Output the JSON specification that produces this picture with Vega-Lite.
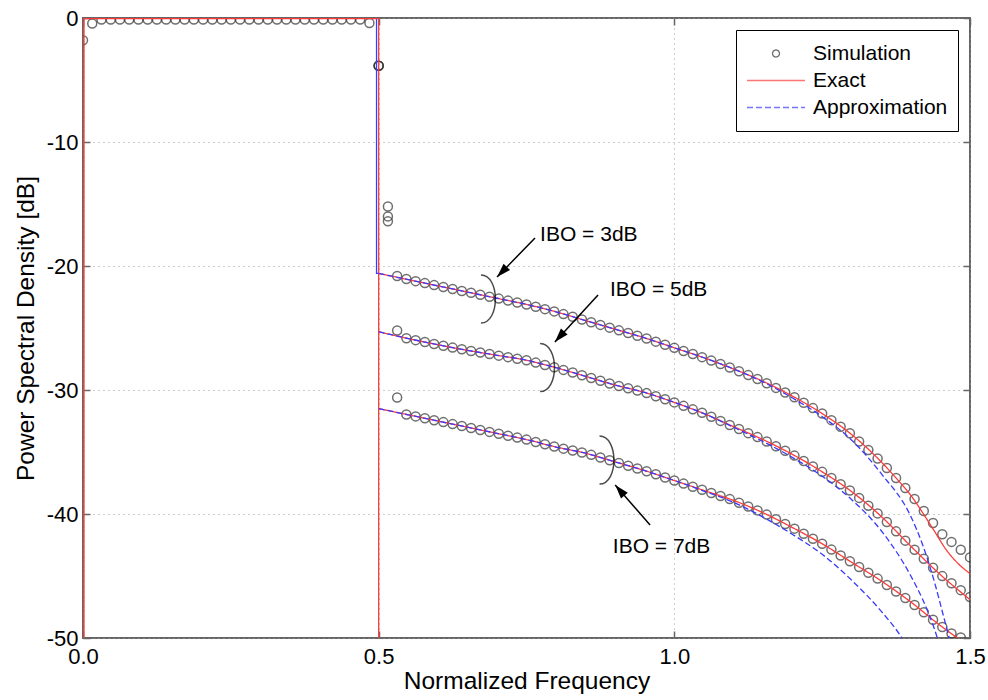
{
  "$schema": "https://vega.github.io/schema/vega-lite/v6.json",
  "width": 887,
  "height": 620,
  "autosize": {"type": "none"},
  "padding": {"left": 83, "top": 18, "right": 18, "bottom": 62},
  "background": "white",
  "config": {
    "font": "Liberation Sans",
    "view": {"stroke": "#666666", "strokeWidth": 2},
    "axis": {
      "labelFont": "Liberation Sans", "titleFont": "Liberation Sans",
      "labelFontSize": 22, "titleFontSize": 24.5, "labelColor": "#000", "titleColor": "#000",
      "titleFontWeight": "normal", "domain": false, "tickColor": "#666666", "tickSize": -7, "tickWidth": 1.5,
      "gridColor": "#9a9a9a", "gridDash": [1, 4], "gridWidth": 1, "labelFlush": false, "labelOverlap": false
    },
    "legend": {
      "orient": "top-right", "offset": 12, "padding": 10, "fillColor": "white", "strokeColor": "black",
      "labelFontSize": 21, "labelFont": "Liberation Sans", "labelColor": "black", "symbolSize": 3364, "clipHeight": 27,
      "rowPadding": 0, "labelOffset": 7, "symbolStrokeWidth": 1.3, "symbolFillColor": "transparent"
    }
  },
  "datasets": {
    "sim": [
      {"f": 0, "s3": -1.8}, {"f": 0.015625, "s3": -0.45}, {"f": 0.03125, "s3": -0.12}, {"f": 0.046875, "s3": -0.12},
      {"f": 0.0625, "s3": -0.12}, {"f": 0.078125, "s3": -0.12}, {"f": 0.09375, "s3": -0.12}, {"f": 0.109375, "s3": -0.12},
      {"f": 0.125, "s3": -0.12}, {"f": 0.140625, "s3": -0.12}, {"f": 0.15625, "s3": -0.12}, {"f": 0.171875, "s3": -0.12},
      {"f": 0.1875, "s3": -0.12}, {"f": 0.203125, "s3": -0.12}, {"f": 0.21875, "s3": -0.12}, {"f": 0.234375, "s3": -0.12},
      {"f": 0.25, "s3": -0.12}, {"f": 0.265625, "s3": -0.12}, {"f": 0.28125, "s3": -0.12}, {"f": 0.296875, "s3": -0.12},
      {"f": 0.3125, "s3": -0.12}, {"f": 0.328125, "s3": -0.12}, {"f": 0.34375, "s3": -0.12}, {"f": 0.359375, "s3": -0.12},
      {"f": 0.375, "s3": -0.12}, {"f": 0.390625, "s3": -0.12}, {"f": 0.40625, "s3": -0.12}, {"f": 0.421875, "s3": -0.12},
      {"f": 0.4375, "s3": -0.12}, {"f": 0.453125, "s3": -0.12}, {"f": 0.46875, "s3": -0.12}, {"f": 0.484375, "s3": -0.4},
      {"f": 0.5, "s3": -3.85, "s5": -3.85, "s7": -3.85},
      {"f": 0.515625, "s3": -15.2, "s5": -16.0, "s7": -16.4},
      {"f": 0.53125, "s3": -20.8, "s5": -25.2, "s7": -30.6},
      {"f": 0.546875, "s3": -21.05, "s5": -25.82, "s7": -31.97},
      {"f": 0.5625, "s3": -21.22, "s5": -25.98, "s7": -32.13},
      {"f": 0.578125, "s3": -21.38, "s5": -26.13, "s7": -32.28},
      {"f": 0.59375, "s3": -21.54, "s5": -26.29, "s7": -32.44},
      {"f": 0.609375, "s3": -21.69, "s5": -26.43, "s7": -32.59},
      {"f": 0.625, "s3": -21.85, "s5": -26.58, "s7": -32.75},
      {"f": 0.640625, "s3": -22.01, "s5": -26.72, "s7": -32.91},
      {"f": 0.65625, "s3": -22.16, "s5": -26.85, "s7": -33.06},
      {"f": 0.671875, "s3": -22.32, "s5": -26.98, "s7": -33.22},
      {"f": 0.6875, "s3": -22.48, "s5": -27.1, "s7": -33.38},
      {"f": 0.703125, "s3": -22.63, "s5": -27.23, "s7": -33.53},
      {"f": 0.71875, "s3": -22.79, "s5": -27.35, "s7": -33.69},
      {"f": 0.734375, "s3": -22.94, "s5": -27.48, "s7": -33.84},
      {"f": 0.75, "s3": -23.1, "s5": -27.6, "s7": -34.0},
      {"f": 0.765625, "s3": -23.29, "s5": -27.79, "s7": -34.19},
      {"f": 0.78125, "s3": -23.48, "s5": -27.98, "s7": -34.38},
      {"f": 0.796875, "s3": -23.66, "s5": -28.16, "s7": -34.56},
      {"f": 0.8125, "s3": -23.88, "s5": -28.38, "s7": -34.73},
      {"f": 0.828125, "s3": -24.09, "s5": -28.59, "s7": -34.88},
      {"f": 0.84375, "s3": -24.31, "s5": -28.81, "s7": -35.04},
      {"f": 0.859375, "s3": -24.53, "s5": -29.03, "s7": -35.23},
      {"f": 0.875, "s3": -24.75, "s5": -29.25, "s7": -35.45},
      {"f": 0.890625, "s3": -24.97, "s5": -29.47, "s7": -35.67},
      {"f": 0.90625, "s3": -25.19, "s5": -29.68, "s7": -35.89},
      {"f": 0.921875, "s3": -25.41, "s5": -29.86, "s7": -36.11},
      {"f": 0.9375, "s3": -25.63, "s5": -30.05, "s7": -36.33},
      {"f": 0.953125, "s3": -25.85, "s5": -30.25, "s7": -36.55},
      {"f": 0.96875, "s3": -26.1, "s5": -30.5, "s7": -36.8},
      {"f": 0.984375, "s3": -26.35, "s5": -30.75, "s7": -37.05},
      {"f": 1.0, "s3": -26.6, "s5": -31.0, "s7": -37.3},
      {"f": 1.015625, "s3": -26.85, "s5": -31.28, "s7": -37.55},
      {"f": 1.03125, "s3": -27.1, "s5": -31.56, "s7": -37.8},
      {"f": 1.046875, "s3": -27.35, "s5": -31.84, "s7": -38.05},
      {"f": 1.0625, "s3": -27.63, "s5": -32.16, "s7": -38.3},
      {"f": 1.078125, "s3": -27.91, "s5": -32.49, "s7": -38.55},
      {"f": 1.09375, "s3": -28.19, "s5": -32.82, "s7": -38.8},
      {"f": 1.109375, "s3": -28.49, "s5": -33.15, "s7": -39.09},
      {"f": 1.125, "s3": -28.8, "s5": -33.48, "s7": -39.4},
      {"f": 1.140625, "s3": -29.11, "s5": -33.8, "s7": -39.71},
      {"f": 1.15625, "s3": -29.45, "s5": -34.15, "s7": -40.05},
      {"f": 1.171875, "s3": -29.83, "s5": -34.53, "s7": -40.43},
      {"f": 1.1875, "s3": -30.2, "s5": -34.9, "s7": -40.8},
      {"f": 1.203125, "s3": -30.59, "s5": -35.29, "s7": -41.18},
      {"f": 1.21875, "s3": -31.03, "s5": -35.73, "s7": -41.59},
      {"f": 1.234375, "s3": -31.46, "s5": -36.16, "s7": -41.99},
      {"f": 1.25, "s3": -31.9, "s5": -36.6, "s7": -42.4},
      {"f": 1.265625, "s3": -32.43, "s5": -37.1, "s7": -42.87},
      {"f": 1.28125, "s3": -32.96, "s5": -37.6, "s7": -43.34},
      {"f": 1.296875, "s3": -33.49, "s5": -38.1, "s7": -43.81},
      {"f": 1.3125, "s3": -34.15, "s5": -38.7, "s7": -44.28},
      {"f": 1.328125, "s3": -34.84, "s5": -39.33, "s7": -44.74},
      {"f": 1.34375, "s3": -35.53, "s5": -39.95, "s7": -45.21},
      {"f": 1.359375, "s3": -36.29, "s5": -40.65, "s7": -45.72},
      {"f": 1.375, "s3": -37.1, "s5": -41.4, "s7": -46.25},
      {"f": 1.390625, "s3": -37.91, "s5": -42.15, "s7": -46.78},
      {"f": 1.40625, "s3": -38.79, "s5": -42.89, "s7": -47.34},
      {"f": 1.421875, "s3": -39.76, "s5": -43.61, "s7": -47.93},
      {"f": 1.4375, "s3": -40.73, "s5": -44.33, "s7": -48.53},
      {"f": 1.453125, "s3": -41.63, "s5": -45.01, "s7": -49.11},
      {"f": 1.46875, "s3": -42.25, "s5": -45.58, "s7": -49.64},
      {"f": 1.484375, "s3": -42.88, "s5": -46.14, "s7": -49.95},
      {"f": 1.5, "s3": -43.5, "s5": -46.7}
    ],
    "curves": [
      {"f": 0.5, "E3": -20.6, "E5": -25.3, "E7": -31.5, "A3": -20.6, "A5": -25.3, "A7": -31.5},
      {"f": 0.55, "E3": -21.1, "E5": -25.85, "E7": -32.0, "A3": -21.1, "A5": -25.85, "A7": -32.0},
      {"f": 0.6, "E3": -21.6, "E5": -26.35, "E7": -32.5, "A3": -21.6, "A5": -26.35, "A7": -32.5},
      {"f": 0.65, "E3": -22.1, "E5": -26.8, "E7": -33.0, "A3": -22.1, "A5": -26.8, "A7": -33.0},
      {"f": 0.7, "E3": -22.6, "E5": -27.2, "E7": -33.5, "A3": -22.6, "A5": -27.2, "A7": -33.5},
      {"f": 0.75, "E3": -23.1, "E5": -27.6, "E7": -34.0, "A3": -23.1, "A5": -27.6, "A7": -34.0},
      {"f": 0.8, "E3": -23.7, "E5": -28.2, "E7": -34.6, "A3": -23.7, "A5": -28.2, "A7": -34.6},
      {"f": 0.85, "E3": -24.4, "E5": -28.9, "E7": -35.1, "A3": -24.4, "A5": -28.9, "A7": -35.1},
      {"f": 0.9, "E3": -25.1, "E5": -29.6, "E7": -35.8, "A3": -25.1, "A5": -29.6, "A7": -35.8},
      {"f": 0.95, "E3": -25.8, "E5": -30.2, "E7": -36.5, "A3": -25.8, "A5": -30.2, "A7": -36.5},
      {"f": 1.0, "E3": -26.6, "E5": -31.0, "E7": -37.3, "A3": -26.6, "A5": -31.0, "A7": -37.3},
      {"f": 1.05, "E3": -27.4, "E5": -31.9, "E7": -38.1, "A3": -27.4, "A5": -31.9, "A7": -38.15},
      {"f": 1.1, "E3": -28.3, "E5": -32.95, "E7": -38.9, "A3": -28.3, "A5": -33.0, "A7": -39.05},
      {"f": 1.15, "E3": -29.3, "E5": -34.0, "E7": -39.9, "A3": -29.35, "A5": -34.15, "A7": -40.25},
      {"f": 1.2, "E3": -30.5, "E5": -35.2, "E7": -41.1, "A3": -30.65, "A5": -35.45, "A7": -41.65},
      {"f": 1.25, "E3": -31.9, "E5": -36.6, "E7": -42.4, "A3": -32.15, "A5": -36.95, "A7": -43.25},
      {"f": 1.3, "E3": -33.6, "E5": -38.2, "E7": -43.9, "A3": -34.05, "A5": -38.85, "A7": -45.35},
      {"f": 1.35, "E3": -35.8, "E5": -40.2, "E7": -45.4, "A3": -36.75, "A5": -41.35, "A7": -47.85},
      {"f": 1.375, "E3": -37.1},
      {"f": 1.385, "A7": -50.0},
      {"f": 1.4, "E3": -38.5, "E5": -42.6, "E7": -47.1, "A3": -40.2, "A5": -45.0, "A7": -51.2},
      {"f": 1.42, "E3": -39.9, "A3": -42.5, "A5": -46.9},
      {"f": 1.44, "E3": -41.4, "A3": -45.5, "A5": -49.3},
      {"f": 1.45, "E5": -44.9, "E7": -49.0, "A5": -50.8},
      {"f": 1.455, "A3": -48.2},
      {"f": 1.46, "E3": -42.9},
      {"f": 1.47, "A3": -50.9},
      {"f": 1.48, "E3": -44.0},
      {"f": 1.5, "E3": -44.8, "E5": -46.9, "E7": -50.7}
    ],
    "edges": [
      {"g": "E", "o": 1, "f": 0.0017, "p": -50},
      {"g": "E", "o": 2, "f": 0.0017, "p": -0.05},
      {"g": "E", "o": 3, "f": 0.5, "p": -0.05},
      {"g": "E", "o": 4, "f": 0.5, "p": -50},
      {"g": "A", "o": 1, "f": 0.4964, "p": -0.05},
      {"g": "A", "o": 2, "f": 0.4964, "p": -20.6},
      {"g": "A", "o": 3, "f": 0.5, "p": -20.6}
    ],
    "ann": [
      {"label": "IBO = 3dB", "tx": 0.773, "ty": -17.5, "x1": 0.7644, "y1": -17.74, "x2": 0.7002, "y2": -20.89, "cx": 0.673, "cy": -22.66},
      {"label": "IBO = 5dB", "tx": 0.891, "ty": -21.9, "x1": 0.871, "y1": -22.34, "x2": 0.798, "y2": -26.13, "cx": 0.773, "cy": -28.19},
      {"label": "IBO = 7dB", "tx": 0.896, "ty": -42.7, "x1": 0.959, "y1": -40.89, "x2": 0.9, "y2": -37.66, "cx": 0.8735, "cy": -35.65}
    ]
  },
  "resolve": {"axis": {"x": "independent", "y": "independent"}},
  "layer": [
    {
      "data": {"name": "sim"},
      "transform": [{"fold": ["s3", "s5", "s7"], "as": ["g", "p"]}, {"filter": "isValid(datum.p)"}],
      "mark": {"type": "point", "filled": false, "size": 5625, "strokeWidth": 1.5, "clip": true},
      "encoding": {
        "x": {"field": "f", "type": "quantitative", "scale": {"domain": [0, 1.5], "nice": false, "zero": false},
          "axis": {"values": [0, 0.5, 1, 1.5], "format": ".1f", "title": "Normalized Frequency", "labelPadding": 15, "titlePadding": 2}},
        "y": {"field": "p", "type": "quantitative", "scale": {"domain": [-50, 0], "nice": false, "zero": false},
          "axis": {"values": [-50, -40, -30, -20, -10, 0], "format": "d", "labelExpr": "replace(datum.label, '\u2212', '-')", "title": "Power Spectral Density [dB]", "labelPadding": 12, "titlePadding": 8}},
        "color": {"datum": "Simulation", "type": "nominal",
          "scale": {"domain": ["Simulation", "Exact", "Approximation"], "range": ["#333333", "#ff3a3a", "#3a3aff"]},
          "legend": {"title": null, "encode": {"legend": {"strokeWidth": {"value": 2}}}}},
        "shape": {"datum": "Simulation", "type": "nominal",
          "scale": {"domain": ["Simulation", "Exact", "Approximation"], "range": ["M0.12,0A0.12,0.12,0,1,1,-0.12,0A0.12,0.12,0,1,1,0.12,0Z", "stroke", "stroke"]},
          "legend": {"title": null}}
      }
    },
    {
      "data": {"name": "curves"},
      "transform": [{"fold": ["E3", "E5", "E7"], "as": ["g", "p"]}, {"filter": "isValid(datum.p)"}],
      "mark": {"type": "line", "interpolate": "monotone", "strokeWidth": 1.3, "clip": true},
      "encoding": {
        "x": {"field": "f", "type": "quantitative", "axis": {"orient": "top", "values": [0, 0.5, 1, 1.5], "labels": false, "title": null, "grid": false}},
        "y": {"field": "p", "type": "quantitative", "axis": {"orient": "right", "values": [-50, -40, -30, -20, -10, 0], "labels": false, "title": null, "grid": false}},
        "detail": {"field": "g"},
        "color": {"datum": "Exact", "type": "nominal",
          "scale": {"domain": ["Simulation", "Exact", "Approximation"], "range": ["#333333", "#ff3a3a", "#3a3aff"]},
          "legend": {"title": null}},
        "strokeDash": {"datum": "Exact", "type": "nominal",
          "scale": {"domain": ["Simulation", "Exact", "Approximation"], "range": [[1, 0], [1, 0], [6, 3]]},
          "legend": {"title": null}}
      }
    },
    {
      "data": {"name": "edges"},
      "transform": [{"filter": "datum.g === 'A'"}],
      "mark": {"type": "line", "strokeWidth": 1.3, "clip": true},
      "encoding": {
        "x": {"field": "f", "type": "quantitative", "axis": null},
        "y": {"field": "p", "type": "quantitative", "axis": null},
        "order": {"field": "o", "type": "quantitative"},
        "color": {"datum": "Approximation", "type": "nominal", "legend": {"title": null}}
      }
    },
    {
      "data": {"name": "edges"},
      "transform": [{"filter": "datum.g === 'E'"}],
      "mark": {"type": "line", "strokeWidth": 1.3, "clip": true},
      "encoding": {
        "x": {"field": "f", "type": "quantitative", "axis": null},
        "y": {"field": "p", "type": "quantitative", "axis": null},
        "order": {"field": "o", "type": "quantitative"},
        "color": {"datum": "Exact", "type": "nominal", "legend": {"title": null}}
      }
    },
    {
      "data": {"name": "curves"},
      "transform": [{"fold": ["A3", "A5", "A7"], "as": ["g", "p"]}, {"filter": "isValid(datum.p)"}],
      "mark": {"type": "line", "interpolate": "monotone", "strokeWidth": 1.3, "clip": true},
      "encoding": {
        "x": {"field": "f", "type": "quantitative", "axis": null},
        "y": {"field": "p", "type": "quantitative", "axis": null},
        "detail": {"field": "g"},
        "color": {"datum": "Approximation", "type": "nominal", "legend": {"title": null}},
        "strokeDash": {"datum": "Approximation", "type": "nominal", "legend": {"title": null}}
      }
    },
    {
      "data": {"name": "ann"},
      "mark": {"type": "text", "align": "left", "baseline": "middle", "fontSize": 21, "font": "Liberation Sans", "color": "black"},
      "encoding": {
        "x": {"field": "tx", "type": "quantitative", "axis": null},
        "y": {"field": "ty", "type": "quantitative", "axis": null},
        "text": {"field": "label"}
      }
    },
    {
      "data": {"name": "ann"},
      "mark": {"type": "rule", "color": "black", "strokeWidth": 1.5},
      "encoding": {
        "x": {"field": "x1", "type": "quantitative", "axis": null},
        "y": {"field": "y1", "type": "quantitative", "axis": null},
        "x2": {"field": "x2"},
        "y2": {"field": "y2"}
      }
    },
    {
      "data": {"name": "ann"},
      "mark": {"type": "point", "filled": false, "shape": "M0,-1C0.8,-1 0.8,1 0,1", "size": 2304, "color": "black", "strokeWidth": 1.5},
      "encoding": {
        "x": {"field": "cx", "type": "quantitative", "axis": null},
        "y": {"field": "cy", "type": "quantitative", "axis": null}
      }
    },
    {
      "data": {"name": "ann"},
      "transform": [{"filter": "datum.label === 'IBO = 3dB'"}],
      "mark": {"type": "point", "filled": true, "shape": "M0,0L-0.375,1.17L0.375,1.17Z", "size": 576, "color": "black", "opacity": 1, "angle": 224},
      "encoding": {
        "x": {"field": "x2", "type": "quantitative", "axis": null},
        "y": {"field": "y2", "type": "quantitative", "axis": null}
      }
    },
    {
      "data": {"name": "ann"},
      "transform": [{"filter": "datum.label === 'IBO = 5dB'"}],
      "mark": {"type": "point", "filled": true, "shape": "M0,0L-0.375,1.17L0.375,1.17Z", "size": 576, "color": "black", "opacity": 1, "angle": 222},
      "encoding": {
        "x": {"field": "x2", "type": "quantitative", "axis": null},
        "y": {"field": "y2", "type": "quantitative", "axis": null}
      }
    },
    {
      "data": {"name": "ann"},
      "transform": [{"filter": "datum.label === 'IBO = 7dB'"}],
      "mark": {"type": "point", "filled": true, "shape": "M0,0L-0.375,1.17L0.375,1.17Z", "size": 576, "color": "black", "opacity": 1, "angle": 319},
      "encoding": {
        "x": {"field": "x2", "type": "quantitative", "axis": null},
        "y": {"field": "y2", "type": "quantitative", "axis": null}
      }
    }
  ]
}
